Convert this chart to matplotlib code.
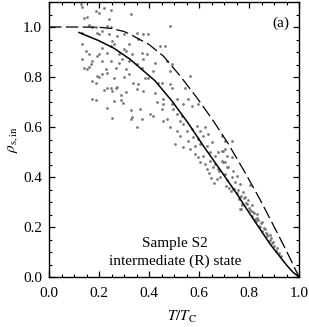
import numpy as np
import matplotlib
matplotlib.use('Agg')
import matplotlib.pyplot as plt
from matplotlib.ticker import MultipleLocator, FormatStrFormatter

plt.rcParams['font.family'] = ['Liberation Serif', 'DejaVu Serif']
plt.rcParams['mathtext.fontset'] = 'stix'

# 曲线数据
dash_t = [0.0, 0.1, 0.2, 0.25, 0.3, 0.324, 0.4, 0.457, 0.524, 0.591, 0.657,
          0.717, 0.784, 0.844, 0.897, 0.95, 0.975, 1.0]
dash_rho = [1.0, 1.0, 0.999, 0.994, 0.982, 0.971, 0.93, 0.884, 0.805, 0.718, 0.625,
            0.533, 0.418, 0.31, 0.208, 0.104, 0.052, 0.0]

solid_t = [0.12, 0.2, 0.26, 0.324, 0.424, 0.491, 0.557, 0.617, 0.684, 0.751,
           0.817, 0.884, 0.95, 0.975, 1.0]
solid_rho = [0.978, 0.945, 0.915, 0.871, 0.785, 0.705, 0.615, 0.525, 0.43, 0.333,
             0.232, 0.132, 0.048, 0.02, 0.0]

# 散点 (T/Tc, rho)
pts_top = [(0.127, 1.093), (0.133, 1.080), (0.22, 1.077), (0.247, 1.070), (0.187, 1.064),
           (0.20, 1.057), (0.14, 1.037), (0.153, 1.040), (0.24, 1.031), (0.327, 1.053),
           (0.16, 1.008), (0.173, 1.0), (0.187, 1.0), (0.233, 1.004), (0.247, 1.0),
           (0.133, 0.977), (0.193, 0.977), (0.213, 0.984), (0.20, 0.971), (0.24, 0.971),
           (0.30, 0.971), (0.273, 0.964), (0.133, 0.934), (0.253, 0.944), (0.26, 0.934),
           (0.32, 0.931), (0.213, 0.918), (0.247, 0.924), (0.147, 0.904), (0.30, 0.911),
           (0.307, 0.904), (0.16, 0.891), (0.193, 0.884), (0.20, 0.891), (0.233, 0.898),
           (0.28, 0.891), (0.133, 0.871), (0.173, 0.865), (0.213, 0.865), (0.247, 0.865),
           (0.28, 0.858), (0.293, 0.871), (0.32, 0.865), (0.167, 0.851), (0.16, 0.841),
           (0.14, 0.835), (0.153, 0.831), (0.267, 0.838), (0.227, 0.831), (0.233, 0.818),
           (0.213, 0.811), (0.307, 0.831), (0.32, 0.811), (0.193, 0.805), (0.20, 0.801),
           (0.26, 0.795), (0.30, 0.801), (0.173, 0.785), (0.187, 0.778), (0.233, 0.758),
           (0.247, 0.756), (0.267, 0.758), (0.273, 0.761), (0.22, 0.748), (0.253, 0.745),
           (0.307, 0.742)]

pts_left = [(0.173, 0.713), (0.187, 0.71), (0.233, 0.677), (0.253, 0.637), (0.26, 0.704),
            (0.287, 0.73), (0.287, 0.71), (0.296, 0.697), (0.327, 0.668), (0.327, 0.634)]

pts_mid = [(0.484, 1.004), (0.351, 0.977), (0.377, 0.971), (0.397, 0.971), (0.357, 0.951),
           (0.444, 0.924), (0.464, 0.924), (0.331, 0.891), (0.371, 0.898), (0.391, 0.891),
           (0.377, 0.871), (0.424, 0.858), (0.471, 0.865), (0.491, 0.851), (0.351, 0.851),
           (0.371, 0.838), (0.417, 0.825), (0.484, 0.825), (0.337, 0.778), (0.357, 0.772),
           (0.384, 0.798), (0.397, 0.798), (0.437, 0.778), (0.451, 0.778), (0.484, 0.772),
           (0.491, 0.758), (0.544, 0.758), (0.564, 0.805), (0.351, 0.752), (0.377, 0.745),
           (0.424, 0.738), (0.457, 0.712), (0.431, 0.699), (0.457, 0.692), (0.451, 0.672),
           (0.491, 0.692), (0.511, 0.712), (0.537, 0.692), (0.557, 0.712), (0.571, 0.685),
           (0.597, 0.692), (0.364, 0.672), (0.404, 0.652), (0.417, 0.645), (0.331, 0.639),
           (0.371, 0.632), (0.351, 0.599), (0.457, 0.625), (0.471, 0.632), (0.497, 0.672),
           (0.511, 0.652), (0.531, 0.645), (0.484, 0.599), (0.524, 0.625), (0.537, 0.612),
           (0.511, 0.586), (0.524, 0.566), (0.551, 0.586), (0.571, 0.592), (0.591, 0.606),
           (0.604, 0.586), (0.624, 0.599), (0.557, 0.546), (0.577, 0.559), (0.597, 0.552),
           (0.617, 0.566), (0.637, 0.572), (0.504, 0.533), (0.537, 0.519), (0.564, 0.513),
           (0.584, 0.526), (0.604, 0.533), (0.631, 0.526), (0.651, 0.539), (0.584, 0.493),
           (0.597, 0.479), (0.617, 0.486), (0.644, 0.499), (0.664, 0.486), (0.677, 0.499),
           (0.697, 0.506), (0.604, 0.459), (0.624, 0.453), (0.644, 0.466), (0.664, 0.453),
           (0.691, 0.466), (0.704, 0.459), (0.631, 0.433), (0.657, 0.44), (0.677, 0.433),
           (0.711, 0.44), (0.64, 0.418), (0.647, 0.398), (0.673, 0.392), (0.66, 0.378),
           (0.68, 0.425)]

pts_band = [(0.691, 0.506), (0.704, 0.513), (0.711, 0.486), (0.731, 0.48), (0.697, 0.46),
            (0.717, 0.44), (0.737, 0.426), (0.704, 0.413), (0.731, 0.40), (0.751, 0.406),
            (0.711, 0.387), (0.744, 0.38), (0.764, 0.373), (0.804, 0.367), (0.737, 0.353),
            (0.757, 0.347), (0.777, 0.34), (0.764, 0.32), (0.784, 0.32), (0.797, 0.307),
            (0.771, 0.287), (0.791, 0.293), (0.81, 0.287), (0.804, 0.267), (0.817, 0.26),
            (0.831, 0.254), (0.824, 0.234), (0.837, 0.227), (0.851, 0.22), (0.844, 0.2),
            (0.864, 0.194), (0.871, 0.174), (0.884, 0.167), (0.884, 0.147), (0.897, 0.141),
            (0.69, 0.566), (0.704, 0.546), (0.73, 0.546), (0.684, 0.40), (0.764, 0.273),
            (0.707, 0.364), (0.72, 0.357), (0.74, 0.351), (0.727, 0.344), (0.753, 0.337),
            (0.767, 0.324), (0.76, 0.311), (0.78, 0.317), (0.773, 0.291), (0.787, 0.297),
            (0.767, 0.271), (0.80, 0.278), (0.807, 0.264), (0.82, 0.258), (0.813, 0.244),
            (0.833, 0.238), (0.827, 0.224), (0.847, 0.218), (0.84, 0.205), (0.86, 0.198),
            (0.853, 0.185), (0.867, 0.178), (0.873, 0.165), (0.887, 0.158), (0.88, 0.145),
            (0.893, 0.138), (0.90, 0.125), (0.913, 0.118), (0.907, 0.105), (0.92, 0.098),
            (0.927, 0.085)]

pts = np.array(pts_top + pts_left + pts_mid + pts_band)

fig = plt.figure(figsize=(3.09, 3.27), dpi=100)
ax = fig.add_axes([49 / 309, 50 / 327, 250 / 309, 275 / 327])

ax.plot(pts[:, 0], pts[:, 1], 'o', ms=2.0, color='#7a7a7a', mew=0, zorder=2)
ax.plot(dash_t, dash_rho, color='black', lw=0.9, dashes=(10, 3.5), zorder=3)
ax.plot(solid_t, solid_rho, color='black', lw=1.1, zorder=3)

ax.set_xlim(0, 1.0)
ax.set_ylim(0, 1.1)
ax.xaxis.set_major_locator(MultipleLocator(0.2))
ax.xaxis.set_minor_locator(MultipleLocator(0.05))
ax.yaxis.set_major_locator(MultipleLocator(0.2))
ax.yaxis.set_minor_locator(MultipleLocator(0.05))
ax.xaxis.set_major_formatter(FormatStrFormatter('%.1f'))
ax.yaxis.set_major_formatter(FormatStrFormatter('%.1f'))
ax.tick_params(which='both', direction='in', top=True, right=True, labelsize=11)
ax.tick_params(which='major', length=4.5, width=0.9)
ax.tick_params(which='minor', length=2.5, width=0.8)
ax.tick_params(axis='x', pad=7)
ax.tick_params(axis='y', pad=5)
for s in ax.spines.values():
    s.set_linewidth(1.0)

ax.set_xlabel(r'$T/T_{\mathrm{C}}$', fontsize=11, va='center')
ax.set_ylabel(r'$\rho_{\mathrm{s,in}}$', fontsize=11)
ax.xaxis.set_label_coords(0.53, -0.145)
ax.yaxis.set_label_coords(-0.115, 0.5)

ax.text(0.928, 1.016, '(a)', fontsize=11, ha='center', va='center')
ax.text(0.504, 0.134, 'Sample S2', fontsize=11, ha='center', va='center')
ax.text(0.504, 0.064, 'intermediate (R) state', fontsize=11, ha='center', va='center')

fig.savefig('out.png', dpi=100)
